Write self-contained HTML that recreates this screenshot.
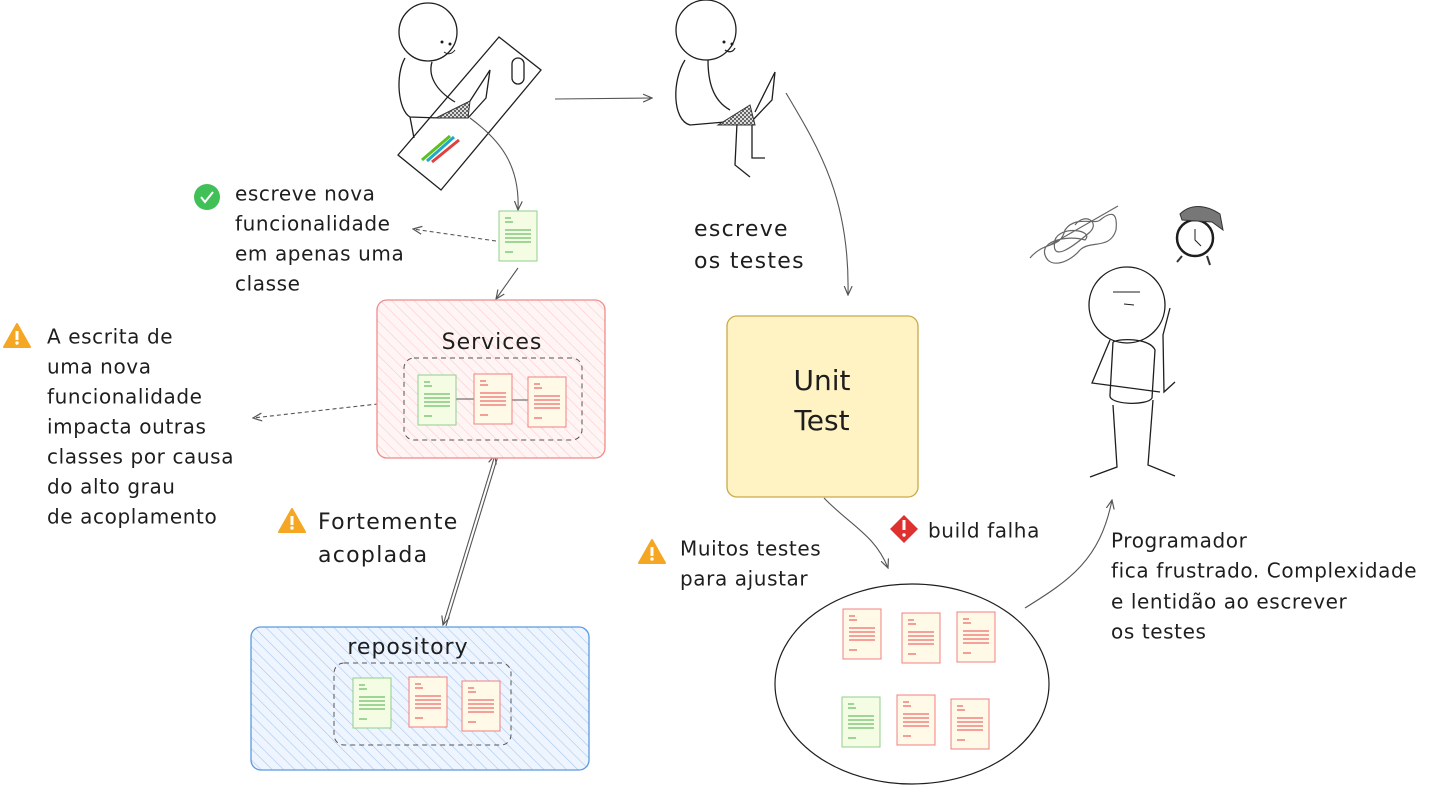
<!DOCTYPE html>
<html><head><meta charset="utf-8"><style>
html,body{margin:0;padding:0;background:#fff}
svg{display:block}
text{font-family:"DejaVu Sans","Liberation Sans",sans-serif;fill:#1e1e1e;dominant-baseline:middle}
</style></head><body>
<svg width="1456" height="786" viewBox="0 0 1456 786" xmlns="http://www.w3.org/2000/svg">
<defs>
<pattern id="hr" width="8" height="8" patternUnits="userSpaceOnUse" patternTransform="rotate(-45)"><rect width="8" height="8" fill="#fff5f5"/><line x1="0" y1="0" x2="0" y2="8" stroke="#ffc9c9" stroke-width="1.2"/></pattern>
<pattern id="hb" width="8" height="8" patternUnits="userSpaceOnUse" patternTransform="rotate(-45)"><rect width="8" height="8" fill="#eef5ff"/><line x1="0" y1="0" x2="0" y2="8" stroke="#a5c8f0" stroke-width="1.2"/></pattern>
<pattern id="chk" width="4" height="4" patternUnits="userSpaceOnUse"><rect width="4" height="4" fill="#ddd"/><rect width="2" height="2" fill="#666"/><rect x="2" y="2" width="2" height="2" fill="#666"/></pattern>
<marker id="ar" viewBox="0 0 10 10" refX="9" refY="5" markerWidth="9" markerHeight="9" orient="auto-start-reverse"><path d="M0,1 L9,5 L0,9" fill="none" stroke="#555" stroke-width="1.2"/></marker>
<g id="gdoc"><rect width="38" height="50" fill="#f4fce3" stroke="#8fcf8f"/><g stroke="#6cc06c" stroke-width="1.3"><line x1="6" y1="7" x2="12" y2="7"/><line x1="6" y1="11" x2="14" y2="11"/><line x1="6" y1="19" x2="32" y2="19"/><line x1="6" y1="23" x2="32" y2="23"/><line x1="6" y1="27" x2="32" y2="27"/><line x1="6" y1="31" x2="32" y2="31"/><line x1="6" y1="41" x2="14" y2="41"/></g></g>
<g id="rdoc"><rect width="38" height="50" fill="#fff9e8" stroke="#f08080"/><g stroke="#ef6c6c" stroke-width="1.3"><line x1="6" y1="7" x2="12" y2="7"/><line x1="6" y1="11" x2="14" y2="11"/><line x1="6" y1="19" x2="32" y2="19"/><line x1="6" y1="23" x2="32" y2="23"/><line x1="6" y1="27" x2="32" y2="27"/><line x1="6" y1="31" x2="32" y2="31"/><line x1="6" y1="41" x2="14" y2="41"/></g></g>
<g id="warn"><path d="M0,-12 L13,11 L-13,11 Z" fill="#f5a623" stroke="#f5a623" stroke-linejoin="round" stroke-width="2"/><rect x="-1.5" y="-5" width="3" height="9" fill="#fff"/><circle cx="0" cy="7" r="1.7" fill="#fff"/></g>
</defs>

<!-- first figure: desk -->
<g fill="none" stroke="#1e1e1e" stroke-width="1.3">
<path d="M398,155 L499,37 L541,70 L441,190 Z"/>
<rect x="512" y="58" width="12" height="26" rx="6"/>
<circle cx="428" cy="32" r="29"/>
<path d="M405,58 C395,75 398,110 410,117 L440,118"/>
<path d="M432,62 C428,75 435,90 455,102"/>
<path d="M410,117 L414,138"/>
<path d="M470,101 L490,70 L486,98 L468,118"/>
</g>
<path d="M436,118 L470,101 L468,118 Z" fill="url(#chk)" stroke="#333"/>
<circle cx="442" cy="42" r="1.5" fill="#1e1e1e"/><circle cx="450" cy="44" r="1.5" fill="#1e1e1e"/>
<path d="M444,52 C448,55 452,54 455,50" fill="none" stroke="#1e1e1e"/>
<g stroke-width="3"><line x1="422" y1="160" x2="450" y2="136" stroke="#5cc020"/><line x1="427" y1="161" x2="454" y2="137" stroke="#20a8c8"/><line x1="432" y1="162" x2="459" y2="140" stroke="#e04040"/></g>

<!-- second figure -->
<g fill="none" stroke="#1e1e1e" stroke-width="1.3">
<circle cx="706" cy="30" r="30"/>
<path d="M685,60 C672,80 672,120 690,125 L725,122"/>
<path d="M708,60 C708,80 712,100 730,110"/>
<path d="M755,112 L775,72 L772,100 L750,123"/>
<path d="M737,123 L735,165 L750,177"/>
<path d="M752,125 L752,158 L765,158"/>
<path d="M725,50 C729,53 733,52 735,48"/>
</g>
<path d="M718,125 L750,105 L755,125 Z" fill="url(#chk)" stroke="#333"/>
<circle cx="724" cy="42" r="1.5" fill="#1e1e1e"/><circle cx="732" cy="44" r="1.5" fill="#1e1e1e"/>

<!-- frustrated figure -->
<g fill="none" stroke="#1e1e1e" stroke-width="1.3">
<circle cx="1127" cy="305" r="38"/>
<path d="M1110,340 L1092,383 L1160,392"/>
<path d="M1113,342 L1110,395 C1108,405 1148,406 1152,398 L1155,350 C1150,338 1120,338 1113,342"/>
<path d="M1170,308 L1163,335 L1164,392 L1175,382"/>
<path d="M1113,405 L1117,467 L1090,477"/>
<path d="M1153,400 L1148,465 L1175,476"/>
<line x1="1113" y1="292" x2="1140" y2="292" stroke-width="1"/><line x1="1124" y1="304" x2="1134" y2="305" stroke-width="1"/>
</g>
<path d="M1030,258 C1045,240 1060,250 1065,230 C1075,215 1095,225 1100,220 C1110,212 1118,210 1116,230 C1110,250 1090,240 1080,250 C1070,262 1050,270 1045,255 C1040,240 1070,235 1085,240 C1095,230 1060,225 1055,240 C1050,265 1075,245 1090,232 C1100,222 1085,212 1075,225 M1050,245 L1118,206" fill="none" stroke="#666" stroke-width="1.2"/>
<circle cx="1195" cy="238" r="18" fill="none" stroke="#1e1e1e" stroke-width="2.5"/>
<path d="M1195,229 L1195,240 L1201,246" stroke="#1e1e1e" fill="none"/>
<path d="M1180,214 C1190,204 1205,204 1220,214 L1223,230 L1212,222 L1182,220 Z" fill="#777" stroke="#333"/>
<line x1="1182" y1="256" x2="1177" y2="262" stroke="#333" stroke-width="2"/><line x1="1207" y1="256" x2="1210" y2="265" stroke="#333" stroke-width="2"/>

<!-- arrows -->
<g fill="none" stroke="#555" stroke-width="1.1">
<path d="M555,99 L652,98" marker-end="url(#ar)"/>
<path d="M786,93 C820,150 850,200 848,295" marker-end="url(#ar)"/>
<path d="M470,118 C500,140 520,165 518,210" marker-end="url(#ar)"/>
<path d="M496,241 L413,229" stroke-dasharray="4 3" marker-end="url(#ar)"/>
<path d="M518,268 L496,299" marker-end="url(#ar)"/>
<path d="M413,400 L253,418" stroke-dasharray="4 3" marker-end="url(#ar)"/>
<path d="M495,455 L443,625" marker-end="url(#ar)" marker-start="url(#ar)"/>
<path d="M498,456 L446,626"/>
<path d="M824,498 C850,525 875,535 888,568" marker-end="url(#ar)"/>
<path d="M1025,608 C1070,580 1100,560 1112,500" marker-end="url(#ar)"/>
</g>

<!-- Services -->
<rect x="377" y="300" width="228" height="158" rx="10" fill="url(#hr)" stroke="#f08a8a" stroke-width="1.3"/>
<text x="492" y="343" font-size="22" letter-spacing="1" text-anchor="middle">Services</text>
<rect x="404" y="358" width="178" height="82" rx="10" fill="none" stroke="#555" stroke-dasharray="5 4"/>
<line x1="456" y1="399" x2="474" y2="399" stroke="#555"/><line x1="512" y1="400" x2="528" y2="400" stroke="#555"/>
<use href="#gdoc" x="418" y="375"/><use href="#rdoc" x="474" y="374"/><use href="#rdoc" x="528" y="377"/>

<!-- repository -->
<rect x="251" y="627" width="338" height="143" rx="10" fill="url(#hb)" stroke="#5a9ae0" stroke-width="1.3"/>
<text x="408" y="648" font-size="22" letter-spacing="1" text-anchor="middle">repository</text>
<rect x="334" y="663" width="177" height="82" rx="10" fill="none" stroke="#555" stroke-dasharray="5 4"/>
<use href="#gdoc" x="353" y="678"/><use href="#rdoc" x="409" y="677"/><use href="#rdoc" x="462" y="681"/>

<!-- Unit Test -->
<rect x="727" y="316" width="191" height="181" rx="10" fill="#fff3c4" stroke="#c9a94a" stroke-width="1.3"/>
<text x="822" y="382" font-size="28" text-anchor="middle">Unit</text>
<text x="822" y="422" font-size="28" text-anchor="middle">Test</text>

<!-- ellipse -->
<ellipse cx="912" cy="684" rx="137" ry="100" fill="none" stroke="#1e1e1e" stroke-width="1.2"/>
<use href="#rdoc" x="843" y="609"/><use href="#rdoc" x="902" y="613"/><use href="#rdoc" x="957" y="612"/>
<use href="#gdoc" x="842" y="697"/><use href="#rdoc" x="897" y="695"/><use href="#rdoc" x="951" y="699"/>

<use href="#gdoc" x="499" y="211"/>

<!-- labels -->
<circle cx="207" cy="197" r="13" fill="#40c057"/><path d="M201,197 L205,202 L213,192" fill="none" stroke="#fff" stroke-width="2"/>
<g font-size="20" letter-spacing="0.6">
<text x="235" y="195">escreve nova</text><text x="235" y="225">funcionalidade</text><text x="235" y="255">em apenas uma</text><text x="235" y="285">classe</text>
<text x="47" y="338">A escrita de</text><text x="47" y="368">uma nova</text><text x="47" y="398">funcionalidade</text><text x="47" y="428">impacta outras</text><text x="47" y="458">classes por causa</text><text x="47" y="488">do alto grau</text><text x="47" y="518">de acoplamento</text>
<text x="680" y="550">Muitos testes</text><text x="680" y="580">para ajustar</text>
<text x="928" y="532">build falha</text>
<text x="1111" y="542">Programador</text><text x="1111" y="572">fica frustrado. Complexidade</text><text x="1111" y="603">e lentidão ao escrever</text><text x="1111" y="633"> os testes</text>
</g>
<g font-size="22" letter-spacing="1.3">
<text x="318" y="523">Fortemente</text><text x="318" y="556">acoplada</text>
<text x="694" y="230">escreve</text><text x="694" y="262">os testes</text>
</g>
<use href="#warn" x="17" y="336"/><use href="#warn" x="292" y="521"/><use href="#warn" x="652" y="552"/>
<path d="M904,515 L918,529 L904,543 L890,529 Z" fill="#e03131"/><rect x="902.5" y="520" width="3" height="10" fill="#fff"/><circle cx="904" cy="535" r="1.7" fill="#fff"/>
</svg>
</body></html>
